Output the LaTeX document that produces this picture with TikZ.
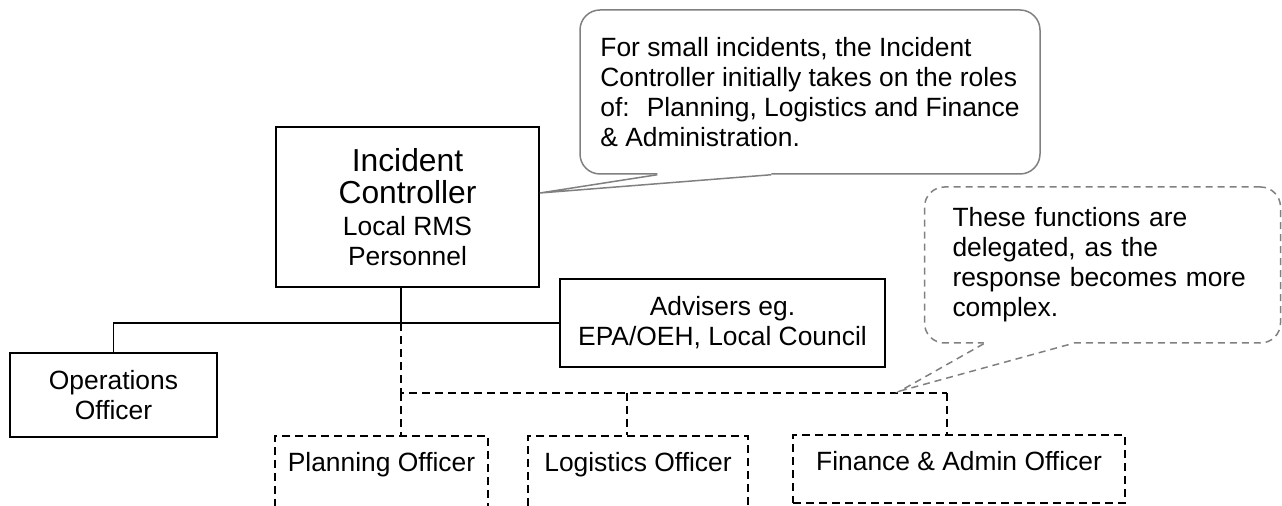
\documentclass[tikz,border=0pt]{standalone}
\usepackage{fontspec}
\setmainfont{Liberation Sans}
\usetikzlibrary{calc}
\definecolor{notegray}{RGB}{128,128,128}
\newcommand{\mainsz}{\fontsize{13.2pt}{15pt}\selectfont}
\newcommand{\bigsz}{\fontsize{15.9pt}{18.5pt}\selectfont}

\begin{document}
\begin{tikzpicture}[x=0.5pt, y=-0.5pt,
        role/.style={rectangle, draw=black, line width=0.9pt, inner sep=0pt,
                     align=center, font=\mainsz},
        deputy/.style={rectangle, draw=black, line width=0.9pt, dash pattern=on 4pt off 2.5pt,
                       inner sep=0pt, anchor=north, text height=18pt, font=\mainsz},
        remark/.style={rectangle, rounded corners=10pt, draw=notegray, line width=0.75pt,
                       fill=white, inner ysep=0pt, align=left, font=\mainsz},
        tie/.style={draw=black, line width=0.9pt},
        dashtie/.style={draw=black, line width=0.9pt, dash pattern=on 4pt off 2.5pt},
        pointer/.style={draw=notegray, line width=0.75pt}
    ]
        \useasboundingbox (0,0) rectangle (1282,506);
        \clip (0,0) rectangle (1282,506);

        % 主要岗位
        \node[role, minimum width=131.5pt, minimum height=80pt] (ic) at (407.5,207)
            {\bigsz Incident\\[1pt]\bigsz Controller\\[1pt]Local RMS\\Personnel};
        \node[role, minimum width=162.5pt, minimum height=44pt] (adv) at (722.5,323)
            {Advisers eg.\\EPA/OEH, Local Council};
        \node[role, minimum width=103.5pt, minimum height=42pt] (ops) at (113.5,395)
            {Operations\\Officer};

        % 委派岗位（虚线）
        \node[deputy, minimum width=106.5pt, text depth=30pt] (plan) at (381.5,435) {Planning Officer};
        \node[deputy, minimum width=110pt, text depth=30pt] (log) at (638,435) {Logistics Officer};
        \node[deputy, minimum width=166pt, text depth=16pt] (fin) at (959,434) {Finance \& Admin Officer};

        % 连线
        \coordinate (trunk) at (401,323);
        \coordinate (bus) at (401,393);
        \coordinate (logtap) at (627,393);
        \coordinate (fintap) at (947,393);
        \draw[tie] (ic.south -| trunk) -- (trunk);
        \draw[tie] (ops.north) |- (adv.west);
        \draw[dashtie] (trunk) -- (bus) -- (fintap);
        \draw[dashtie] (bus) -- (plan.north -| bus);
        \draw[dashtie] (logtap) -- (log.north -| logtap);
        \draw[dashtie] (fintap) -- (fin.north -| fintap);

        % 注释框
        \node[remark, inner xsep=0pt, minimum width=230pt, minimum height=82pt] (note1) at (810,92)
            {For small incidents, the Incident\\Controller initially takes on the roles\\of:~ Planning, Logistics and Finance\\\& Administration.};
        \coordinate (tip1) at ($(ic.east)+(0,-14)$);
        \fill[white] ($(note1.south west)+(78,-2)$) -- ($(note1.south west)+(78,0)$) -- (tip1)
            -- ($(note1.south west)+(192,0)$) -- ($(note1.south west)+(192,-2)$) -- cycle;
        \draw[pointer] ($(note1.south west)+(78,0)$) -- (tip1) -- ($(note1.south west)+(192,0)$);

        \node[remark, dash pattern=on 3.5pt off 2.5pt, inner xsep=14pt, text width=150pt,
              minimum height=78pt] (note2) at (1102.5,265)
            {These functions are\\delegated, as the\\response becomes more\\complex.};
        \coordinate (tip2) at ($(fintap)+(-47,-2)$);
        \fill[white] ($(note2.south west)+(60,-2)$) -- ($(note2.south west)+(60,0)$) -- (tip2)
            -- ($(note2.south west)+(148,0)$) -- ($(note2.south west)+(148,-2)$) -- cycle;
        \draw[pointer, dash pattern=on 3.5pt off 2.5pt] ($(note2.south west)+(60,0)$) -- (tip2)
            -- ($(note2.south west)+(148,0)$);
\end{tikzpicture}
\end{document}
